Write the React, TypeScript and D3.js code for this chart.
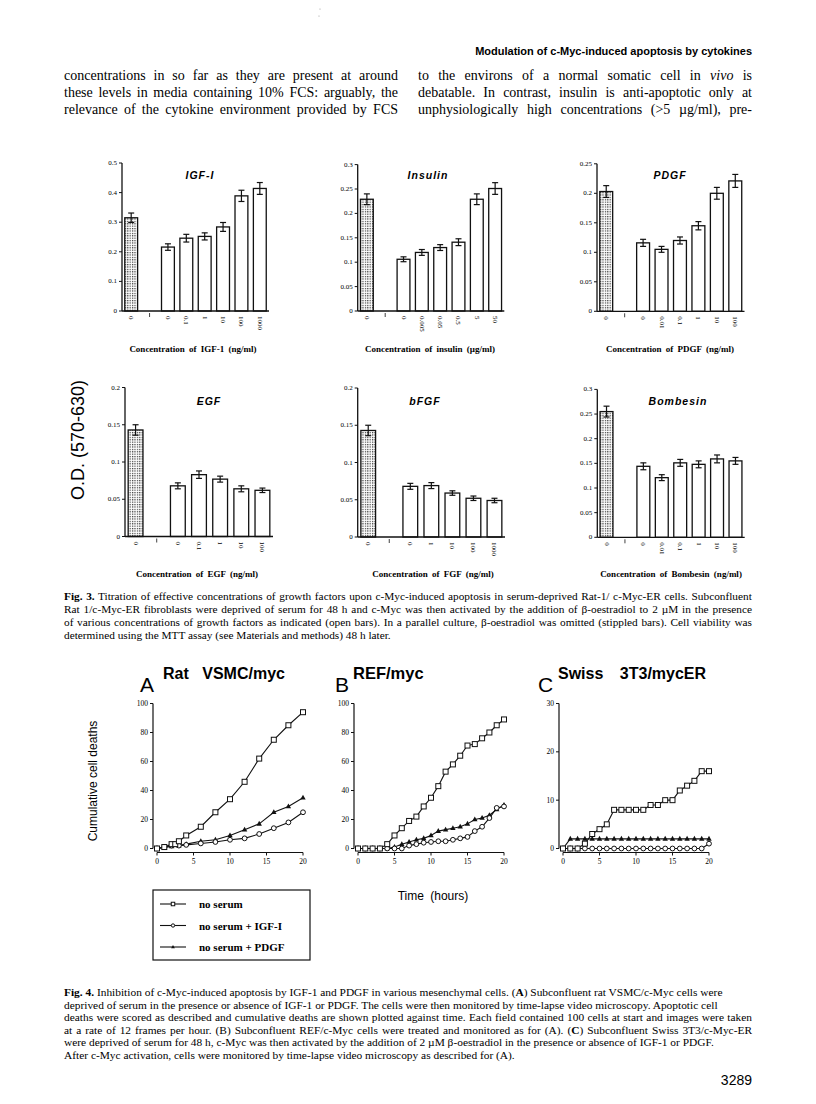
import React from "react";
import * as d3 from "d3";

const SERIF = "'Liberation Serif','Times New Roman',serif";
const SANS = "'Liberation Sans',Arial,Helvetica,sans-serif";

// ---------------- Fig. 3 data (O.D. 570-630) ----------------
const igfLabels = ["0", "0.1", "1", "10", "100", "1000"];
const igfControl = [0.315];
const igfControlErr = [0.016];
const igfValues = [0.216, 0.246, 0.252, 0.284, 0.389, 0.414];
const igfErrors = [0.011, 0.013, 0.012, 0.015, 0.019, 0.02];

const insulinLabels = ["0", "0.005", "0.05", "0.5", "5", "50"];
const insulinControl = [0.229];
const insulinControlErr = [0.011];
const insulinValues = [0.106, 0.12, 0.13, 0.141, 0.229, 0.251];
const insulinErrors = [0.005, 0.006, 0.006, 0.007, 0.011, 0.012];

const pdgfLabels = ["0", "0.01", "0.1", "1", "10", "100"];
const pdgfControl = [0.203];
const pdgfControlErr = [0.01];
const pdgfValues = [0.116, 0.105, 0.12, 0.145, 0.2, 0.221];
const pdgfErrors = [0.006, 0.005, 0.006, 0.007, 0.01, 0.011];

const egfLabels = ["0", "0.1", "1", "10", "100"];
const egfControl = [0.143];
const egfControlErr = [0.007];
const egfValues = [0.068, 0.083, 0.077, 0.064, 0.062];
const egfErrors = [0.004, 0.005, 0.004, 0.004, 0.003];

const fgfLabels = ["0", "1", "10", "100", "1000"];
const fgfControl = [0.143];
const fgfControlErr = [0.007];
const fgfValues = [0.068, 0.069, 0.059, 0.052, 0.049];
const fgfErrors = [0.004, 0.004, 0.003, 0.003, 0.003];

const bombesinLabels = ["0", "0.01", "0.1", "1", "10", "100"];
const bombesinControl = [0.255];
const bombesinControlErr = [0.011];
const bombesinValues = [0.144, 0.121, 0.151, 0.148, 0.159, 0.155];
const bombesinErrors = [0.007, 0.006, 0.007, 0.007, 0.008, 0.007];

const ticks05 = ["0", "0.1", "0.2", "0.3", "0.4", "0.5"];
const ticks03 = ["0", "0.05", "0.1", "0.15", "0.2", "0.25", "0.3"];
const ticks025 = ["0", "0.05", "0.1", "0.15", "0.2", "0.25"];
const ticks02 = ["0", "0.05", "0.1", "0.15", "0.2"];

// ---------------- Fig. 4 data (cumulative cell deaths) ----------------
const aNoSerumT = [0, 1, 2, 2.5, 3, 4, 6, 8, 10, 12, 14, 16, 18, 20];
const aNoSerumV = [0, 1, 3, 3, 5, 9, 15, 25, 34, 46, 62, 75, 85, 94];
const aIgfT = [0, 1, 2, 3, 4, 6, 8, 10, 12, 14, 16, 18, 20];
const aIgfV = [0, 1, 2, 2, 2.5, 3.5, 4.5, 6, 7, 10, 14, 18, 25];
const aPdgfT = [0, 1, 2, 3, 4, 6, 8, 10, 12, 14, 16, 18, 20];
const aPdgfV = [0, 0.5, 1.5, 2, 3, 5, 6, 9, 13, 17, 25, 29, 35];

const hours = [0, 1, 2, 3, 4, 5, 6, 7, 8, 9, 10, 11, 12, 13, 14, 15, 16, 17, 18, 19, 20];
const bNoSerumV = [0, 0, 0, 0, 3, 9, 14, 19, 22, 29, 35, 43, 53, 58, 64, 71, 72, 76, 80, 85, 89];
const bIgfV = [0, 0, 0, 0, 0, 0, 0, 2, 3, 4, 4.5, 5, 5, 6, 7, 8, 12, 15, 21, 28, 29];
const bPdgfV = [0, 0, 0, 0, 0, 1, 3, 4.5, 6, 7, 9, 12, 13, 14, 15, 17, 20, 21, 23, 27, 30];

const cNoSerumV = [0, 0, 0, 1, 3, 4, 5, 8, 8, 8, 8, 8, 9, 9, 10, 10, 12, 13, 14, 16, 16];
const cIgfV = [0, 0, 0, 0, 0, 0, 0, 0, 0, 0, 0, 0, 0, 0, 0, 0, 0, 0, 0, 0, 1];
const cPdgfV = [0, 2, 2, 2, 2, 2, 2, 2, 2, 2, 2, 2, 2, 2, 2, 2, 2, 2, 2, 2, 2];

const ticks100 = ["0", "20", "40", "60", "80", "100"];
const ticks30 = ["0", "10", "20", "30"];
const timeTicks = ["0", "5", "10", "15", "20"];

const legendLabels = ["no serum", "no serum + IGF-I", "no serum + PDGF"];
const markerKinds = ["square", "circle", "triangle"];

// ---------------- text measurement for justified lines ----------------
let measureCtx: CanvasRenderingContext2D | null = null;
function measure(text: string, font: string): number {
  if (!measureCtx) measureCtx = document.createElement("canvas").getContext("2d");
  if (!measureCtx) return text.length * 5;
  measureCtx.font = font;
  return measureCtx.measureText(text).width;
}

type Seg = { t: string; b?: boolean; i?: boolean };

function JLine({ x, y, segs, size, family, width }:
  { x: number; y: number; segs: Seg[]; size: number; family: string; width?: number }) {
  let ws = 0;
  if (width) {
    let w = 0;
    let spaces = 0;
    for (const s of segs) {
      w += measure(s.t, `${s.i ? "italic " : ""}${s.b ? "bold " : ""}${size}px ${family}`);
      spaces += (s.t.match(/ /g) || []).length;
    }
    ws = spaces ? (width - w) / spaces : 0;
  }
  return (
    <text x={x} y={y} fontFamily={family} fontSize={size} wordSpacing={ws}>
      {segs.map((s, k) => (
        <tspan key={k} fontWeight={s.b ? "bold" : undefined} fontStyle={s.i ? "italic" : undefined}>{s.t}</tspan>
      ))}
    </text>
  );
}

type BarProps = {
  x0: number; x1: number; yBottom: number; yTop: number; yMax: number;
  ticks: string[]; title: string; titleX: number; titleY: number;
  xTitle: string; xTitleX: number; xTitleY: number;
  labels: string[]; control: number[]; controlErr: number[];
  values: number[]; errors: number[];
};

function BarPanel(p: BarProps) {
  const slots = ["ctrl", "gap", ...p.labels.map((_, i) => "b" + i)];
  const x = d3.scaleBand().domain(slots).range([p.x0, p.x1]).paddingInner(0.3).paddingOuter(0.15);
  const y = d3.scaleLinear().domain([0, p.yMax]).range([p.yBottom, p.yTop]);
  const bw = x.bandwidth();
  const bars = [
    { slot: "ctrl", v: p.control[0], e: p.controlErr[0], fill: "url(#stipple)", label: "0" },
    ...p.values.map((v, i) => ({ slot: "b" + i, v, e: p.errors[i], fill: "#fff", label: p.labels[i] })),
  ];
  const gx = (x("gap") as number) + bw / 2;
  return (
    <g>
      <text x={p.titleX} y={p.titleY} textAnchor="middle" fontFamily={SANS} fontWeight="bold"
        fontStyle="italic" fontSize={10.5} letterSpacing={1}>{p.title}</text>
      {bars.map((b) => {
        const bx = x(b.slot) as number;
        const cx = bx + bw / 2;
        return (
          <g key={b.slot}>
            <rect x={bx} y={y(b.v)} width={bw} height={p.yBottom - y(b.v)} fill={b.fill}
              stroke="#111" strokeWidth={1.3} />
            <line x1={cx} x2={cx} y1={y(b.v + b.e)} y2={y(b.v - b.e)} stroke="#111" strokeWidth={1.2} />
            <line x1={cx - 3} x2={cx + 3} y1={y(b.v + b.e)} y2={y(b.v + b.e)} stroke="#111" strokeWidth={1.2} />
            <line x1={cx - 3} x2={cx + 3} y1={y(b.v - b.e)} y2={y(b.v - b.e)} stroke="#111" strokeWidth={1.2} />
            <text transform={`translate(${cx},${p.yBottom + 5}) rotate(90)`} dominantBaseline="central"
              fontFamily={SERIF} fontSize={7}>{b.label}</text>
          </g>
        );
      })}
      <line x1={gx} x2={gx} y1={p.yBottom + 2} y2={p.yBottom + 6} stroke="#111" strokeWidth={0.8} />
      <line x1={p.x0} x2={p.x0} y1={p.yTop} y2={p.yBottom} stroke="#111" strokeWidth={1.3} />
      <line x1={p.x0} x2={p.x1} y1={p.yBottom} y2={p.yBottom} stroke="#111" strokeWidth={1.3} />
      {p.ticks.map((t) => (
        <g key={t}>
          <line x1={p.x0 - 3} x2={p.x0} y1={y(+t)} y2={y(+t)} stroke="#111" strokeWidth={1} />
          <text x={p.x0 - 5} y={y(+t)} textAnchor="end" dominantBaseline="central"
            fontFamily={SERIF} fontSize={7}>{t}</text>
        </g>
      ))}
      <text x={p.xTitleX} y={p.xTitleY} textAnchor="middle" fontFamily={SERIF} fontWeight="bold"
        fontSize={9} wordSpacing={2}>{p.xTitle}</text>
    </g>
  );
}

function Marker({ kind, x, y, s = 1 }: { kind: string; x: number; y: number; s?: number }) {
  if (kind === "square")
    return <rect x={x - 2.5 * s} y={y - 2.5 * s} width={5 * s} height={5 * s} fill="#fff" stroke="#111" strokeWidth={1} />;
  if (kind === "circle")
    return <circle cx={x} cy={y} r={2.4 * s} fill="#fff" stroke="#111" strokeWidth={1} />;
  const r = 3 * s;
  return <path d={`M${x},${y - r}L${x + r * 0.9},${y + r * 0.6}L${x - r * 0.9},${y + r * 0.6}Z`} fill="#111" />;
}

type Series = { t: number[]; v: number[]; kind: string };

function LinePanel({ x0, y0, w, h, yMax, ticks, series }:
  { x0: number; y0: number; w: number; h: number; yMax: number; ticks: string[]; series: Series[] }) {
  const x = d3.scaleLinear().domain([0, 20]).range([x0, x0 + w]);
  const y = d3.scaleLinear().domain([0, yMax]).range([y0, y0 - h]);
  const line = d3.line<[number, number]>().x((d) => x(d[0])).y((d) => y(d[1]));
  const ax = x0 - 4;
  const ay = y0 + 4;
  return (
    <g>
      <line x1={ax} x2={ax} y1={y(yMax)} y2={y0} stroke="#111" strokeWidth={1.2} />
      <line x1={x0} x2={x0 + w} y1={ay} y2={ay} stroke="#111" strokeWidth={1.2} />
      {ticks.map((t) => (
        <g key={t}>
          <line x1={ax - 3} x2={ax} y1={y(+t)} y2={y(+t)} stroke="#111" strokeWidth={1} />
          <text x={ax - 5} y={y(+t)} textAnchor="end" dominantBaseline="central" fontFamily={SERIF}
            fontSize={7.5}>{t}</text>
        </g>
      ))}
      {timeTicks.map((t) => (
        <g key={t}>
          <line x1={x(+t)} x2={x(+t)} y1={ay} y2={ay + 3} stroke="#111" strokeWidth={1} />
          <text x={x(+t)} y={ay + 11} textAnchor="middle" fontFamily={SERIF} fontSize={7.5}>{t}</text>
        </g>
      ))}
      {series.map((s, si) => {
        const pts = s.t.map((t, i) => [t, s.v[i]] as [number, number]);
        return (
          <g key={si}>
            <path d={line(pts) || ""} fill="none" stroke="#111" strokeWidth={1.1} />
            {pts.map((d, i) => <Marker key={i} kind={s.kind} x={x(d[0])} y={y(d[1])} />)}
          </g>
        );
      })}
    </g>
  );
}

const PF = "'Liberation Serif'";

export default function App() {
  const lx = 64, rx = 752;
  const colW = 334;
  const capW = 688;
  const c3 = 11.3;
  const c4 = 11.4;
  return (
    <svg width={816} height={1104} style={{ position: "absolute", left: 0, top: 0, background: "#fff" }}>
      <defs>
        <pattern id="stipple" width={2.4} height={2.4} patternUnits="userSpaceOnUse">
          <rect width={2.4} height={2.4} fill="#fff" />
          <rect x={0} y={0} width={1.2} height={1.2} fill="#333" />
        </pattern>
      </defs>
      <rect width={816} height={1104} fill="#fff" />
      <circle cx={320} cy={9} r={0.6} fill="#999" />
      <circle cx={319} cy={16} r={0.6} fill="#999" />

      <text x={rx} y={55} textAnchor="end" fontFamily={SANS} fontWeight="bold" fontSize={11}>
        Modulation of c-Myc-induced apoptosis by cytokines
      </text>

      <JLine x={lx} y={80} size={14} family={PF} width={colW} segs={[{ t: "concentrations in so far as they are present at around" }]} />
      <JLine x={lx} y={97} size={14} family={PF} width={colW} segs={[{ t: "these levels in media containing 10% FCS: arguably, the" }]} />
      <JLine x={lx} y={114} size={14} family={PF} width={colW} segs={[{ t: "relevance of the cytokine environment provided by FCS" }]} />
      <JLine x={418} y={80} size={14} family={PF} width={colW} segs={[{ t: "to the environs of a normal somatic cell in " }, { t: "vivo", i: true }, { t: " is" }]} />
      <JLine x={418} y={97} size={14} family={PF} width={colW} segs={[{ t: "debatable. In contrast, insulin is anti-apoptotic only at" }]} />
      <JLine x={418} y={114} size={14} family={PF} width={colW} segs={[{ t: "unphysiologically high concentrations (>5 µg/ml), pre-" }]} />

      <text transform="translate(84,440) rotate(-90)" textAnchor="middle" fontFamily={SANS} fontSize={18}>O.D. (570-630)</text>

      <BarPanel x0={122} x1={269} yBottom={311} yTop={163} yMax={0.5} ticks={ticks05}
        title="IGF-I" titleX={200} titleY={179} xTitle="Concentration of IGF-1 (ng/ml)" xTitleX={193} xTitleY={352}
        labels={igfLabels} control={igfControl} controlErr={igfControlErr} values={igfValues} errors={igfErrors} />
      <BarPanel x0={357.7} x1={504.3} yBottom={311} yTop={164.6} yMax={0.3} ticks={ticks03}
        title="Insulin" titleX={428} titleY={179} xTitle="Concentration of insulin (µg/ml)" xTitleX={430} xTitleY={352}
        labels={insulinLabels} control={insulinControl} controlErr={insulinControlErr} values={insulinValues} errors={insulinErrors} />
      <BarPanel x0={597} x1={744.5} yBottom={311.3} yTop={163.8} yMax={0.25} ticks={ticks025}
        title="PDGF" titleX={670} titleY={179} xTitle="Concentration of PDGF (ng/ml)" xTitleX={670} xTitleY={352}
        labels={pdgfLabels} control={pdgfControl} controlErr={pdgfControlErr} values={pdgfValues} errors={pdgfErrors} />
      <BarPanel x0={125} x1={273} yBottom={536.5} yTop={387.5} yMax={0.2} ticks={ticks02}
        title="EGF" titleX={209} titleY={405} xTitle="Concentration of EGF (ng/ml)" xTitleX={197} xTitleY={577}
        labels={egfLabels} control={egfControl} controlErr={egfControlErr} values={egfValues} errors={egfErrors} />
      <BarPanel x0={357.7} x1={505} yBottom={537} yTop={388} yMax={0.2} ticks={ticks02}
        title="bFGF" titleX={425} titleY={405} xTitle="Concentration of FGF (ng/ml)" xTitleX={433} xTitleY={577}
        labels={fgfLabels} control={fgfControl} controlErr={fgfControlErr} values={fgfValues} errors={fgfErrors} />
      <BarPanel x0={597.3} x1={744.7} yBottom={537.3} yTop={389.4} yMax={0.3} ticks={ticks03}
        title="Bombesin" titleX={678} titleY={405} xTitle="Concentration of Bombesin (ng/ml)" xTitleX={671} xTitleY={577}
        labels={bombesinLabels} control={bombesinControl} controlErr={bombesinControlErr} values={bombesinValues} errors={bombesinErrors} />

      <JLine x={lx} y={600} size={c3} family={PF} width={capW} segs={[{ t: "Fig. 3.", b: true }, { t: " Titration of effective concentrations of growth factors upon c-Myc-induced apoptosis in serum-deprived Rat-1/ c-Myc-ER cells. Subconfluent" }]} />
      <JLine x={lx} y={613} size={c3} family={PF} width={capW} segs={[{ t: "Rat 1/c-Myc-ER fibroblasts were deprived of serum for 48 h and c-Myc was then activated by the addition of β-oestradiol to 2 µM in the presence" }]} />
      <JLine x={lx} y={626} size={c3} family={PF} width={capW} segs={[{ t: "of various concentrations of growth factors as indicated (open bars). In a parallel culture, β-oestradiol was omitted (stippled bars). Cell viability was" }]} />
      <JLine x={lx} y={639} size={c3} family={PF} segs={[{ t: "determined using the MTT assay (see Materials and methods) 48 h later." }]} />

      <text x={140} y={692} fontFamily={SANS} fontSize={21}>A</text>
      <text x={163} y={679} fontFamily={SANS} fontWeight="bold" fontSize={16} wordSpacing={9}>Rat VSMC/myc</text>
      <text x={335} y={692} fontFamily={SANS} fontSize={21}>B</text>
      <text x={353} y={679} fontFamily={SANS} fontWeight="bold" fontSize={16.5}>REF/myc</text>
      <text x={538} y={692} fontFamily={SANS} fontSize={21}>C</text>
      <text x={558} y={679} fontFamily={SANS} fontWeight="bold" fontSize={16} wordSpacing={12}>Swiss 3T3/mycER</text>

      <text transform="translate(97,781) rotate(-90)" textAnchor="middle" fontFamily={SANS} fontSize={12}>Cumulative cell deaths</text>

      <LinePanel x0={157} y0={848.5} w={146} h={145} yMax={100} ticks={ticks100}
        series={[
          { t: aPdgfT, v: aPdgfV, kind: "triangle" },
          { t: aIgfT, v: aIgfV, kind: "circle" },
          { t: aNoSerumT, v: aNoSerumV, kind: "square" },
        ]} />
      <LinePanel x0={358} y0={848.5} w={146} h={145} yMax={100} ticks={ticks100}
        series={[
          { t: hours, v: bPdgfV, kind: "triangle" },
          { t: hours, v: bIgfV, kind: "circle" },
          { t: hours, v: bNoSerumV, kind: "square" },
        ]} />
      <LinePanel x0={563} y0={848.5} w={146} h={145} yMax={30} ticks={ticks30}
        series={[
          { t: hours, v: cPdgfV, kind: "triangle" },
          { t: hours, v: cIgfV, kind: "circle" },
          { t: hours, v: cNoSerumV, kind: "square" },
        ]} />

      <text x={433} y={900} textAnchor="middle" fontFamily={SANS} fontSize={12} wordSpacing={3}>Time (hours)</text>

      <rect x={153} y={890} width={157} height={70} fill="none" stroke="#111" strokeWidth={1.2} />
      {legendLabels.map((l, i) => {
        const yy = 904 + i * 21.5;
        return (
          <g key={l}>
            <line x1={160} x2={186} y1={yy} y2={yy} stroke="#111" strokeWidth={1.1} />
            <Marker kind={markerKinds[i]} x={173} y={yy} s={0.7} />
            <text x={199} y={yy} dominantBaseline="central" fontFamily={SERIF} fontWeight="bold" fontSize={11}>{l}</text>
          </g>
        );
      })}

      <JLine x={lx} y={996} size={c4} family={PF} segs={[{ t: "Fig. 4.", b: true }, { t: " Inhibition of c-Myc-induced apoptosis by IGF-1 and PDGF in various mesenchymal cells. (" }, { t: "A", b: true }, { t: ") Subconfluent rat VSMC/c-Myc cells were" }]} />
      <JLine x={lx} y={1008.5} size={c4} family={PF} segs={[{ t: "deprived of serum in the presence or absence of IGF-1 or PDGF. The cells were then monitored by time-lapse video microscopy. Apoptotic cell" }]} />
      <JLine x={lx} y={1021} size={c4} family={PF} width={capW} segs={[{ t: "deaths were scored as described and cumulative deaths are shown plotted against time. Each field contained 100 cells at start and images were taken" }]} />
      <JLine x={lx} y={1033.5} size={c4} family={PF} width={capW} segs={[{ t: "at a rate of 12 frames per hour. (B) Subconfluent REF/c-Myc cells were treated and monitored as for (A). (" }, { t: "C", b: true }, { t: ") Subconfluent Swiss 3T3/c-Myc-ER" }]} />
      <JLine x={lx} y={1046} size={c4} family={PF} segs={[{ t: "were deprived of serum for 48 h, c-Myc was then activated by the addition of 2 µM β-oestradiol in the presence or absence of IGF-1 or PDGF." }]} />
      <JLine x={lx} y={1058.5} size={c4} family={PF} segs={[{ t: "After c-Myc activation, cells were monitored by time-lapse video microscopy as described for (A)." }]} />

      <text x={rx} y={1085} textAnchor="end" fontFamily={SANS} fontSize={14}>3289</text>
    </svg>
  );
}
